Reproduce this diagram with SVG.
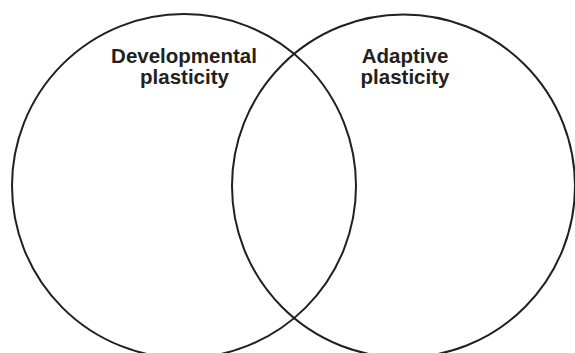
<svg xmlns="http://www.w3.org/2000/svg" width="575" height="353" viewBox="0 0 575 353">
  <style>
    .set { fill: none; stroke: #231f20; stroke-width: 2; }
    .label { font-family: "Liberation Sans", Arial, sans-serif; font-weight: bold; font-size: 20.5px; fill: #231f20; text-anchor: middle; }
  </style>
  <rect width="575" height="353" fill="#ffffff"/>
  <g id="developmental">
    <circle class="set" cx="184" cy="186" r="172"/>
    <text class="label" x="184" y="62.5">Developmental</text>
    <text class="label" x="184.5" y="84">plasticity</text>
  </g>
  <g id="adaptive">
    <circle class="set" cx="403.5" cy="186" r="171.5"/>
    <text class="label" x="405" y="62.5">Adaptive</text>
    <text class="label" x="405" y="84">plasticity</text>
  </g>
</svg>
